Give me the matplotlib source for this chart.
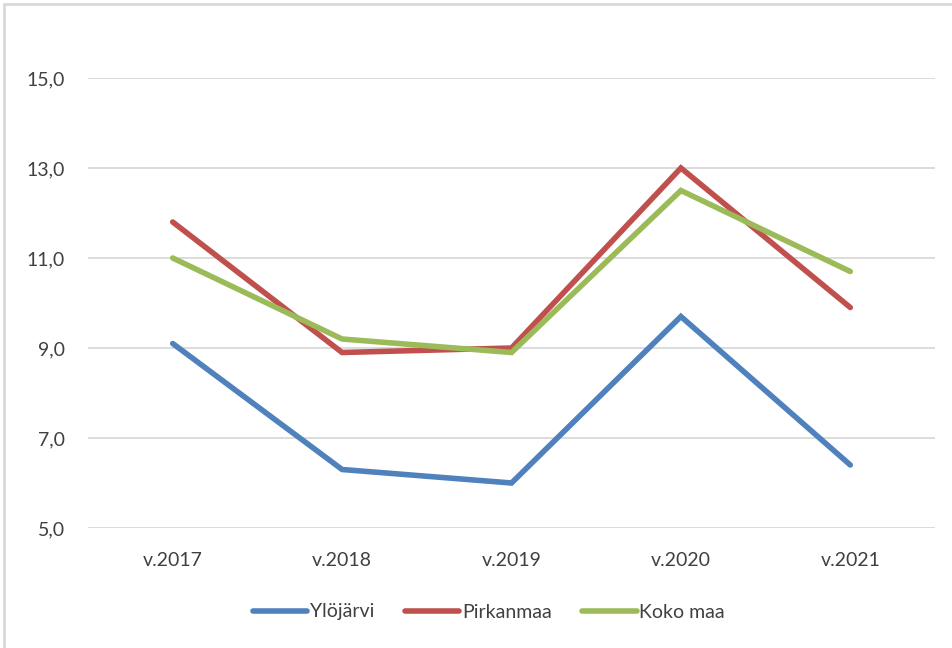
import matplotlib.pyplot as plt
from matplotlib.patches import Rectangle
from matplotlib.ticker import FuncFormatter

years = ["v.2017", "v.2018", "v.2019", "v.2020", "v.2021"]
yloj = [9.1, 6.3, 6.0, 9.7, 6.4]
pirk = [11.8, 8.9, 9.0, 13.0, 9.9]
koko = [11.0, 9.2, 8.9, 12.5, 10.7]

series = [("Ylöjärvi", yloj, "#4F81BD"),
          ("Pirkanmaa", pirk, "#C0504D"),
          ("Koko maa", koko, "#9BBB59")]

plt.rcParams["font.family"] = ["Lato", "DejaVu Sans"]

fig = plt.figure(figsize=(9.53, 6.48), dpi=100)
ax = fig.add_axes([88 / 953, 1 - 528 / 648, (935 - 88) / 953, (528 - 78) / 648])

x = range(len(years))
for name, vals, col in series:
    ax.plot(x, vals, color=col, lw=4, solid_capstyle="round",
            solid_joinstyle="miter", label=name)

ax.set_xlim(-0.5, 4.5)
ax.set_ylim(5, 15)
ax.set_yticks([5, 7, 9, 11, 13, 15])
ax.yaxis.set_major_formatter(FuncFormatter(lambda v, p: f"{v:.1f}".replace(".", ",")))
ax.set_xticks(list(x))
ax.set_xticklabels(years)
ax.grid(axis="y", color="#d9d9d9", lw=1.3)
ax.set_axisbelow(True)
for s in ax.spines.values():
    s.set_visible(False)
ax.tick_params(length=0, labelsize=14, colors="#404040")
ax.tick_params(axis="y", pad=16.5)
ax.tick_params(axis="x", pad=17)

leg = ax.legend(loc="center", ncol=3, frameon=False, fontsize=14,
                handlelength=2.8, handletextpad=0.15, columnspacing=1.55,
                labelcolor="#404040")
leg.set_bbox_to_anchor(((489 - 88) / 847, -(612 - 528) / 450), transform=ax.transAxes)

# chart border
fig.patches.append(Rectangle((4 / 953, -0.05), 1.2, 1 - 4 / 648 + 0.05,
                             transform=fig.transFigure, fill=False,
                             edgecolor="#d9d9d9", lw=2))

fig.savefig("out.png", dpi=100)
